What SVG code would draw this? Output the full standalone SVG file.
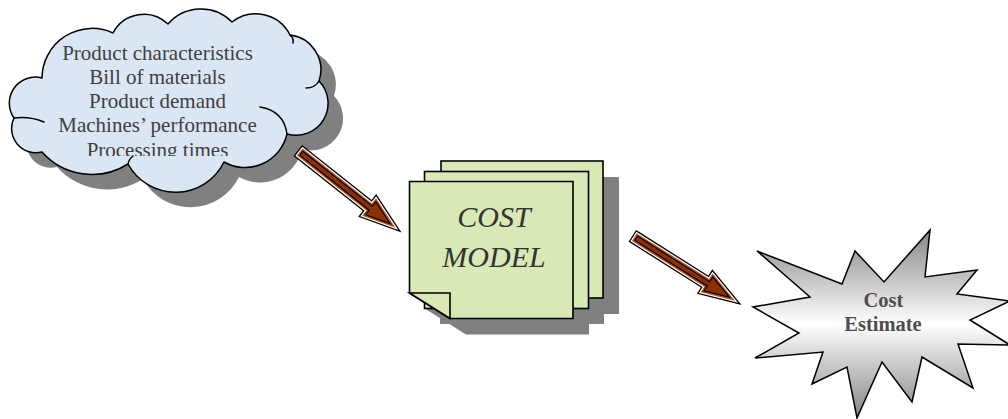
<svg xmlns="http://www.w3.org/2000/svg" xmlns:xlink="http://www.w3.org/1999/xlink" width="1008" height="419" viewBox="0 0 1008 419">
  <defs>
    <style>
      .shadow { fill: #808080; stroke: none; }
      .cloud { fill: #dae6f4; stroke: #000; stroke-width: 1.5; stroke-linejoin: round; }
      .inner { fill: none; stroke: #000; stroke-width: 1.5; stroke-linecap: round; }
      .ctext { font-family: "Liberation Serif", "Times New Roman", serif; font-size: 21px; fill: #404040; text-anchor: middle; }
      .page { fill: #d8e9b5; stroke: #000; stroke-width: 1.6; stroke-linejoin: miter; }
      .mtext { font-family: "Liberation Serif", "Times New Roman", serif; font-style: italic; font-size: 30px; fill: #333; text-anchor: middle; }
      .star { fill: url(#starGrad); stroke: #000; stroke-width: 1.5; stroke-linejoin: miter; }
      .stext { font-family: "Liberation Serif", "Times New Roman", serif; font-weight: bold; font-size: 20.5px; fill: #4d4d4d; text-anchor: middle; }
      .a1 { fill: none; stroke: #000; stroke-width: 9; stroke-linejoin: miter; }
      .a2 { fill: none; stroke: #fff; stroke-width: 6.4; stroke-linejoin: miter; }
      .a3 { fill: none; stroke: #b5531f; stroke-width: 4; stroke-linejoin: miter; }
      .a4 { fill: #8b3000; stroke: #000; stroke-width: 1.2; stroke-linejoin: miter; }
    </style>
    <linearGradient id="starGrad" gradientUnits="userSpaceOnUse" x1="0" y1="230" x2="0" y2="418">
      <stop offset="0" stop-color="#858585"/>
      <stop offset="0.5" stop-color="#ffffff"/>
      <stop offset="1" stop-color="#858585"/>
    </linearGradient>
    <clipPath id="textClip">
      <rect x="0" y="0" width="340" height="156"/>
    </clipPath>
    <path id="cloudShape" d="M42,78 A50,50 0 0 1 113,33 A34.7,34.7 0 0 1 168,24 A43.6,43.6 0 0 1 232,22 A38.5,38.5 0 0 1 290,35 A35,35 0 0 1 319,81 A32,32 0 0 1 287,134 A43,43 0 0 1 224,162 A54,54 0 0 1 128,164 A67,67 0 0 1 42,152 A24.3,24.3 0 0 1 14,118 A26,26 0 0 1 42,78 Z"/>
    <polygon id="arrowA" points="4.5,-2.5 93,-2.5 93,-8.3 118,0 93,8.3 93,2.5 4.5,2.5"/>
    <polygon id="arrowB" points="4.5,-2.5 90,-2.5 90,-8.3 115,0 90,8.3 90,2.5 4.5,2.5"/>
  </defs>

  <g id="cloud-inputs">
    <use xlink:href="#cloudShape" href="#cloudShape" class="shadow" transform="translate(15,15)"/>
    <use xlink:href="#cloudShape" href="#cloudShape" class="cloud"/>
    <path class="inner" d="M319,81 Q315,88 306,88 M287,134 Q284,111 260,107 M14,118 Q30,116 44,122 M128,164 Q129,159 133,156 M290,35 Q294,38 293,43"/>
    <g clip-path="url(#textClip)">
      <text class="ctext" x="157.5" y="59.5">Product characteristics</text>
      <text class="ctext" x="157.5" y="83.5">Bill of materials</text>
      <text class="ctext" x="157.5" y="107.5">Product demand</text>
      <text class="ctext" x="157.5" y="132">Machines’ performance</text>
      <text class="ctext" x="157.5" y="156.5">Processing times</text>
    </g>
  </g>

  <g id="cost-model">
    <rect class="shadow" x="457" y="177" width="162" height="137"/>
    <rect class="shadow" x="440" y="187" width="164" height="137"/>
    <path class="shadow" d="M425.5,197.5 H589 V334.5 H466 L425.5,309 Z"/>
    <rect class="page" x="441" y="161" width="162" height="137"/>
    <rect class="page" x="424.5" y="171.5" width="164" height="137"/>
    <path class="page" d="M409.5,181.5 H573 V318.5 H450 L409.5,293 Z"/>
    <path class="page" d="M409.5,293 H450 V318.5 Z"/>
    <text class="mtext" x="494" y="226.5">COST</text>
    <text class="mtext" x="494" y="267">MODEL</text>
  </g>

  <g id="cost-estimate">
    <polygon class="star" points="757,251 842,284 855,251 884,282 930,230 925,277 977,270 957,294 1010,301 970,320 1010,345 958,344 973,388 922,357 912,402 882,362 857,418 847,367 812,384 823,352 755,358 799,333 753,307 810,297"/>
    <text class="stext" x="883.5" y="307">Cost</text>
    <text class="stext" x="883" y="331">Estimate</text>
  </g>

  <g id="connectors">
    <g transform="translate(297.8,150.5) rotate(38.35)">
      <use xlink:href="#arrowA" href="#arrowA" class="a1"/>
      <use xlink:href="#arrowA" href="#arrowA" class="a2"/>
      <use xlink:href="#arrowA" href="#arrowA" class="a3"/>
      <use xlink:href="#arrowA" href="#arrowA" class="a4"/>
    </g>
    <g transform="translate(632.3,235.8) rotate(32.3)">
      <use xlink:href="#arrowB" href="#arrowB" class="a1"/>
      <use xlink:href="#arrowB" href="#arrowB" class="a2"/>
      <use xlink:href="#arrowB" href="#arrowB" class="a3"/>
      <use xlink:href="#arrowB" href="#arrowB" class="a4"/>
    </g>
  </g>
</svg>
